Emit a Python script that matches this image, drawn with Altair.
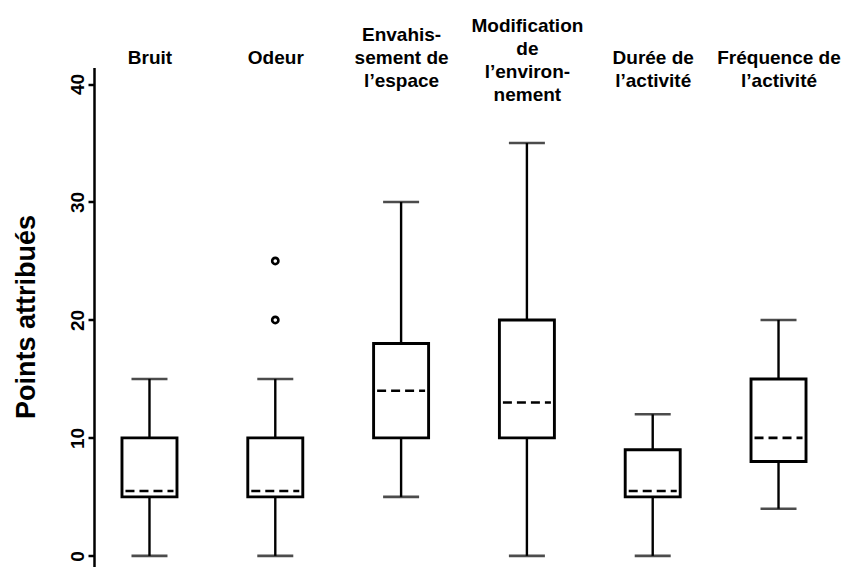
import json
import altair as alt
import pandas as pd

FONT = "Liberation Sans"

categories = [
    "Bruit",
    "Odeur",
    "Envahissement de l’espace",
    "Modification de l’environnement",
    "Durée de l’activité",
    "Fréquence de l’activité",
]
label_lines = [
    ["", "Bruit"],
    ["", "Odeur"],
    ["Envahis-", "sement de", "l’espace"],
    ["Modification", "de", "l’environ-", "nement"],
    ["", "Durée de", "l’activité"],
    ["", "Fréquence de", "l’activité"],
]
whisker_low = [0, 0, 5, 0, 0, 4]
q1 = [5, 5, 10, 10, 5, 8]
median = [5.5, 5.5, 14, 13, 5.5, 10]
q3 = [10, 10, 18, 20, 9, 15]
whisker_high = [15, 15, 30, 35, 12, 20]
outlier_cat = ["Odeur", "Odeur"]
outlier_val = [20, 25]
y_ticks = [0, 10, 20, 30, 40]

df = pd.DataFrame({
    "cat": categories,
    "low": whisker_low,
    "q1": q1,
    "median": median,
    "q3": q3,
    "high": whisker_high,
})
df_out = pd.DataFrame({"cat": outlier_cat, "val": outlier_val})

expr = ""
for c, lines in zip(categories, label_lines):
    expr += f'datum.value == "{c}" ? {json.dumps(lines, ensure_ascii=False)} : '
expr += "datum.label"

x_enc = alt.X(
    "cat:N",
    sort=categories,
    scale=alt.Scale(type="point", domain=categories, padding=0.441),
    axis=alt.Axis(
        orient="top", domain=False, ticks=False, tickSize=0, labelAngle=0,
        labelAlign="center", labelBaseline="middle",
        labelPadding={"condition": {"test": f'datum.value == "{categories[3]}"',
                                    "value": 42.5},
                      "value": 33.5},
        labelFontSize=19, labelFontWeight="bold", labelFont=FONT,
        labelLineHeight=23, labelExpr=expr, labelOverlap=False,
        labelLimit=300, labelColor="black", title=None,
    ),
)
y_scale = alt.Scale(domain=[-0.9, 41.4], nice=False, zero=False)
y_axis = alt.Axis(
    values=y_ticks, grid=False, domainColor="black", domainWidth=2.5,
    tickColor="black", tickWidth=2.5, tickSize=6,
    labelAngle=270, labelAlign="center", labelBaseline="alphabetic",
    labelPadding=5, labelFontSize=19, labelFontWeight="bold", labelFont=FONT,
    labelColor="black",
    title="Points attribués", titleFontSize=27, titleFontWeight="bold",
    titleFont=FONT, titleColor="black", titleAngle=270, titleAlign="center",
    titleBaseline="middle", titleX=-68, titleY=249,
)

base = alt.Chart(df)

whisk_lo = base.mark_rule(color="black", strokeWidth=2.4).encode(
    x=x_enc, y=alt.Y("low:Q", scale=y_scale, axis=y_axis), y2="q1:Q")
whisk_hi = base.mark_rule(color="black", strokeWidth=2.4).encode(
    x=x_enc, y=alt.Y("q3:Q", scale=y_scale, axis=y_axis), y2="high:Q")
box = base.mark_bar(width=55, fill="white", stroke="black", strokeWidth=2.9).encode(
    x=x_enc, y=alt.Y("q1:Q", scale=y_scale, axis=y_axis), y2="q3:Q")
med = base.mark_rule(color="black", strokeWidth=2.6, strokeDash=[9, 5],
                     xOffset=-24, x2Offset=24).encode(
    x=x_enc, x2=alt.X2("cat:N"), y=alt.Y("median:Q", scale=y_scale, axis=y_axis))
cap_lo = base.mark_tick(color="black", size=36, thickness=2.6).encode(
    x=x_enc, y=alt.Y("low:Q", scale=y_scale, axis=y_axis))
cap_hi = base.mark_tick(color="black", size=36, thickness=2.6).encode(
    x=x_enc, y=alt.Y("high:Q", scale=y_scale, axis=y_axis))
outl = alt.Chart(df_out).mark_point(shape="circle", filled=False, color="black",
                                    size=38, strokeWidth=2.7, opacity=1).encode(
    x=x_enc, y=alt.Y("val:Q", scale=y_scale, axis=y_axis))

chart = alt.layer(whisk_lo, whisk_hi, box, med, cap_lo, cap_hi, outl).properties(
    width=740, height=499,
    autosize=alt.AutoSizeParams(type="none"),
    padding={"left": 86, "top": 59.5, "right": 19, "bottom": 0},
    background="white",
).configure_view(stroke="transparent")

chart.save("out.html", embed_options={"renderer": "svg", "actions": False})
